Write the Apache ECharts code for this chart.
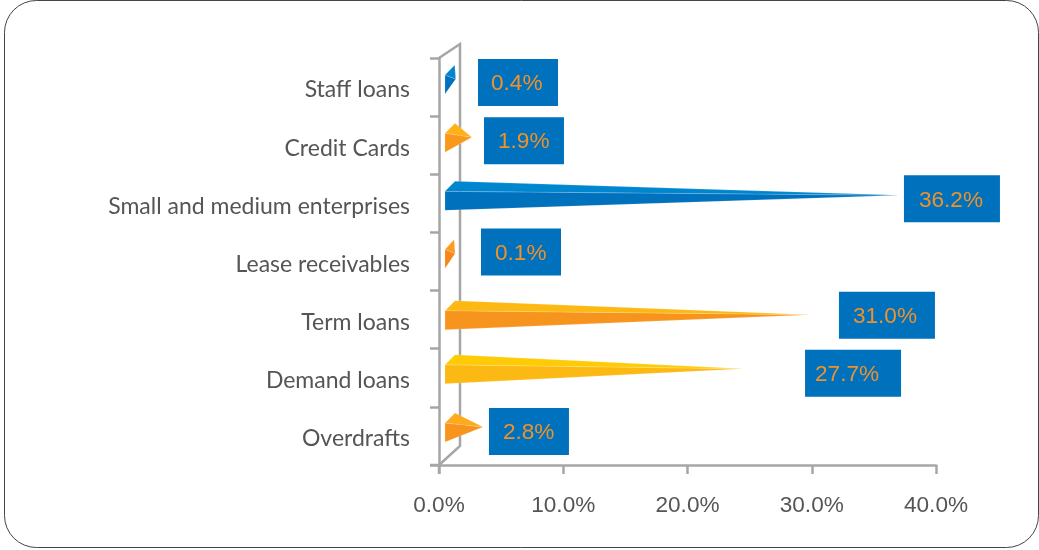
<!DOCTYPE html>
<html><head><meta charset="utf-8">
<style>html,body{margin:0;padding:0;background:#fff}#c{width:1039px;height:550px}</style>
<script src="https://cdn.jsdelivr.net/npm/echarts@6/dist/echarts.min.js"></script>
</head><body><div id="c"></div>
<script>
const categories = ['Staff loans','Credit Cards','Small and medium enterprises','Lease receivables','Term loans','Demand loans','Overdrafts'];
const labelValues = [0.4,1.9,36.2,0.1,31.0,27.7,2.8];
const drawnLengths = [0.3,1.6,36.0,0.25,28.8,23.4,2.5];
const topColors = ['#0085cf','#ffb116','#0085cf','#fb9b20','#fdb913','#ffcb05','#fdaa1c'];
const frontColors = ['#0071bc','#fa981d','#0071bc','#f7861d','#f7941d','#fdb913','#f7941d'];
const labelAnchors = [3.14,3.62,37.42,3.38,32.19,29.46,4.02];
const labelShift = [0,0,0,-5,0,0,0];
const coneShift = [0,0,0,0,3,-1,-1];
const textInset = [13,14,15,14,14,10,14];
const tickLabels = ['0.0%','10.0%','20.0%','30.0%','40.0%'];

const font = '"Liberation Sans",sans-serif';
const axisGrey = '#a6a6a7';
const chart = echarts.init(document.getElementById('c'), null, {renderer:'canvas'});

function renderCone(params, api){
  const i = api.value(1);
  const o = api.coord([0,i]);
  const c = o[1]+coneShift[i];
  const base = o[0]+6;
  const tip = api.coord([api.value(0),i])[0]+13;
  const ridge = Math.min(base+10,tip-1);
  const stroke = 'rgba(255,255,255,0.3)';
  return {type:'group',children:[
    {type:'polygon',shape:{points:[[base,c-12],[base,c+7],[tip,c-8]]},style:{fill:frontColors[i],stroke:stroke,lineWidth:0.5}},
    {type:'polygon',shape:{points:[[base,c-12],[ridge,c-22],[tip,c-8]]},style:{fill:topColors[i],stroke:stroke,lineWidth:0.5}}
  ]};
}
function renderLabel(params, api){
  const i = api.value(1);
  const p = api.coord([api.value(0),i]);
  const txt = labelValues[i].toFixed(1)+'%';
  const w = txt.length>4 ? 96 : 80;
  const top = p[1]-28+labelShift[i];
  return {type:'group',children:[
    {type:'rect',shape:{x:p[0],y:top,width:w,height:47},style:{fill:'#0071bc'}},
    {type:'text',style:{x:p[0]+textInset[i],y:top+25,text:txt,fill:'#f0912a',font:'22.6px '+font,textAlign:'left',textVerticalAlign:'middle'}}
  ]};
}

chart.setOption({
  animation:false,
  backgroundColor:'#ffffff',
  grid:{left:439,right:103,top:58,bottom:85,containLabel:false},
  xAxis:{type:'value',min:0,max:40,interval:10,
    axisLine:{show:true,lineStyle:{color:axisGrey,width:2.5}},
    axisTick:{show:true,length:9,lineStyle:{color:axisGrey,width:2.5}},
    splitLine:{show:false},
    axisLabel:{margin:29,color:'#555555',fontFamily:font,fontSize:22.6,
      formatter:(v)=>tickLabels[v/10]}},
  yAxis:{type:'category',inverse:true,data:categories,boundaryGap:true,
    axisLine:{show:true,lineStyle:{color:axisGrey,width:2.5}},
    axisTick:{show:true,length:9,alignWithLabel:false,lineStyle:{color:axisGrey,width:2.5}},
    axisLabel:{margin:29,color:'#555555',fontFamily:'Lato,sans-serif',fontSize:23,interval:0,verticalAlign:'top',lineHeight:6}},
  graphic:[
    {type:'rect',z:0,shape:{x:4.5,y:0.5,width:1034,height:547,r:32},style:{fill:'none',stroke:'#444',lineWidth:1}},
    {type:'polyline',z:0,shape:{points:[[439,58],[460,44],[460,446],[439,465]]},style:{fill:'none',stroke:axisGrey,lineWidth:2.5}},
    {type:'polyline',z:0,shape:{points:[[430,465],[439,465],[439,474]]},style:{fill:'none',stroke:axisGrey,lineWidth:2.5}}
  ],
  series:[
    {type:'custom',z:3,renderItem:renderCone,encode:{x:0,y:1},data:drawnLengths.map((v,i)=>[v,i])},
    {type:'custom',z:4,renderItem:renderLabel,encode:{x:0,y:1},data:labelAnchors.map((v,i)=>[v,i])}
  ]
});
</script></body></html>
